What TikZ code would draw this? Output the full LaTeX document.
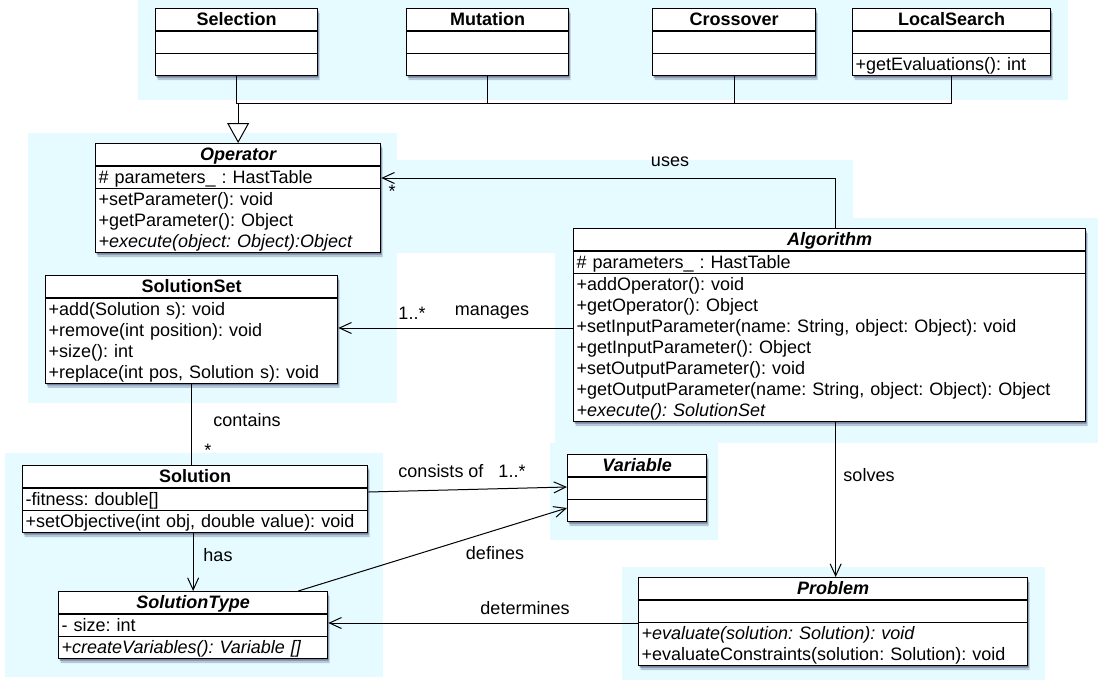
\documentclass[tikz,border=0pt]{standalone}
\usepackage{fontspec}
\setmainfont{Liberation Sans}
\usepackage{tikz}
\usetikzlibrary{shapes.multipart,arrows.meta,shadows,positioning}
\setlength{\parindent}{0pt}
\frenchspacing
\definecolor{glow}{RGB}{230,251,255}
\definecolor{shade}{RGB}{40,50,95}
\newcommand{\umlfont}{\fontsize{18}{21}\selectfont}
\newcommand{\rs}{\rule[-4.5pt]{0pt}{21pt}}
\newcommand{\ctitle}[1]{\rs\makebox[\hsize]{\bfseries #1}}
\tikzset{
  umlclass/.style={rectangle split, rectangle split parts=3, draw=black, fill=white,
    line width=1.3pt, inner xsep=3pt, inner ysep=0pt, align=left, font=\umlfont,
    anchor=north west,
    drop shadow={shadow xshift=1pt, shadow yshift=-2pt, opacity=.45, fill=shade},
    drop shadow={shadow xshift=2pt, shadow yshift=-4.5pt, opacity=.25, fill=shade}},
  assoc/.style={line width=1pt, -{Straight Barb[length=12pt,width=11pt]}},
  plain/.style={line width=1pt},
  lbl/.style={font=\umlfont, inner sep=0pt}
}

\begin{document}
\begin{tikzpicture}[x=1pt,y=-1pt]
\useasboundingbox (0,0) rectangle (1098,680);
\fill[glow] (138,0) rectangle (1068,100);
\fill[glow] (28,133) rectangle (397,403);
\fill[glow] (397,160) rectangle (853,253);
\fill[glow] (555,218) rectangle (1098,443);
\fill[glow] (550,443) rectangle (718,540);
\fill[glow] (5,453) rectangle (383,677);
\fill[glow] (622,567) rectangle (1045,680);

\node[umlclass, text width=156pt] (sel) at (155,8)
  {\ctitle{Selection}\nodepart{second}\rs\nodepart{third}\rs};
\node[umlclass, text width=156pt] (mut) at (406,8)
  {\ctitle{Mutation}\nodepart{second}\rs\nodepart{third}\rs};
\node[umlclass, text width=157pt] (cro) at (652,8)
  {\ctitle{Crossover}\nodepart{second}\rs\nodepart{third}\rs};
\node[umlclass, text width=192pt] (lsearch) at (852,8)
  {\ctitle{LocalSearch}\nodepart{second}\rs\nodepart{third}\rs +getEvaluations(): int};

\node[umlclass, text width=279pt] (op) at (95,143)
  {\ctitle{\itshape Operator}
   \nodepart{second}\rs\# parameters\_ : HastTable
   \nodepart{third}\rs +setParameter(): void\\
   \rs +getParameter(): Object\\
   \rs\itshape +execute(object: Object):Object};

\node[umlclass, text width=506pt] (alg) at (573,228)
  {\ctitle{\itshape Algorithm}
   \nodepart{second}\rs\# parameters\_ : HastTable
   \nodepart{third}\rs +addOperator(): void\\
   \rs +getOperator(): Object\\
   \rs +setInputParameter(name: String, object: Object): void\\
   \rs +getInputParameter(): Object\\
   \rs +setOutputParameter(): void\\
   \rs +getOutputParameter(name: String, object: Object): Object\\
   \rs\itshape +execute(): SolutionSet};

\node[umlclass, rectangle split parts=2, text width=286pt] (sset) at (45,275)
  {\ctitle{SolutionSet}
   \nodepart{second}\rs +add(Solution s): void\\
   \rs +remove(int position): void\\
   \rs +size(): int\\
   \rs +replace(int pos, Solution s): void};

\node[umlclass, text width=339pt] (sol) at (22,465)
  {\ctitle{Solution}
   \nodepart{second}\rs -fitness: double[]
   \nodepart{third}\rs +setObjective(int obj, double value): void};

\node[umlclass, text width=133pt] (var) at (567,454)
  {\ctitle{\itshape Variable}\nodepart{second}\rs\nodepart{third}\rs};

\node[umlclass, text width=263pt] (stype) at (58,591)
  {\ctitle{\itshape SolutionType}
   \nodepart{second}\rs - size: int
   \nodepart{third}\rs\itshape +createVariables(): Variable []};

\node[umlclass, text width=383pt] (prob) at (638,577)
  {\ctitle{\itshape Problem}
   \nodepart{second}\rs
   \nodepart{third}\rs\textit{+evaluate(solution: Solution): void}\\
   \rs +evaluateConstraints(solution: Solution): void};

\coordinate (bus) at (237,103);
\draw[plain] (sel.south) -- (sel.south |- bus) -| (lsearch.south);
\draw[plain] (mut.south) -- (mut.south |- bus);
\draw[plain] (cro.south) -- (cro.south |- bus);
\draw[plain, -{Triangle[length=20pt,width=22pt,fill=white]}] (op.north |- bus) -- (op.north);

\draw[assoc] ([xshift=6pt]alg.north) |- ([yshift=-35pt]op.north east);
\coordinate (manA) at ([yshift=-100pt]alg.north west);
\draw[assoc] (manA) -- (manA -| sset.east);
\draw[plain] (sset.south) -- (sset.south |- sol.north);
\draw[assoc] (stype.north |- sol.south) -- (stype.north);
\draw[assoc] ([yshift=-27pt]sol.north east) -- ([yshift=-33pt]var.north west);
\draw[assoc] ([xshift=-30pt]stype.north east) -- ([yshift=-54pt]var.north west);
\coordinate (detA) at ([yshift=-46pt]prob.north west);
\draw[assoc] (detA) -- (detA -| stype.east);
\coordinate (solA) at ([xshift=6pt]alg.south);
\draw[assoc] (solA) -- (solA |- prob.north);

\node[lbl] (usesL) at (670,162) {uses};
\node[lbl] (usesM) at (392,191) {*};
\node[lbl] (manM) at (412,313) {1..*};
\node[lbl] (manL) at (492,313) {manages};
\node[lbl] (conL) at (247,420) {contains};
\node[lbl] (conM) at (208,450) {*};
\node[lbl] (consL) at (441,471) {consists of};
\node[lbl] (consM) at (512,471) {1..*};
\node[lbl] (hasL) at (218,555) {has};
\node[lbl] (defL) at (495,553) {defines};
\node[lbl] (detL) at (525,608) {determines};
\node[lbl] (solL) at (869,475) {solves};
\end{tikzpicture}
\end{document}
